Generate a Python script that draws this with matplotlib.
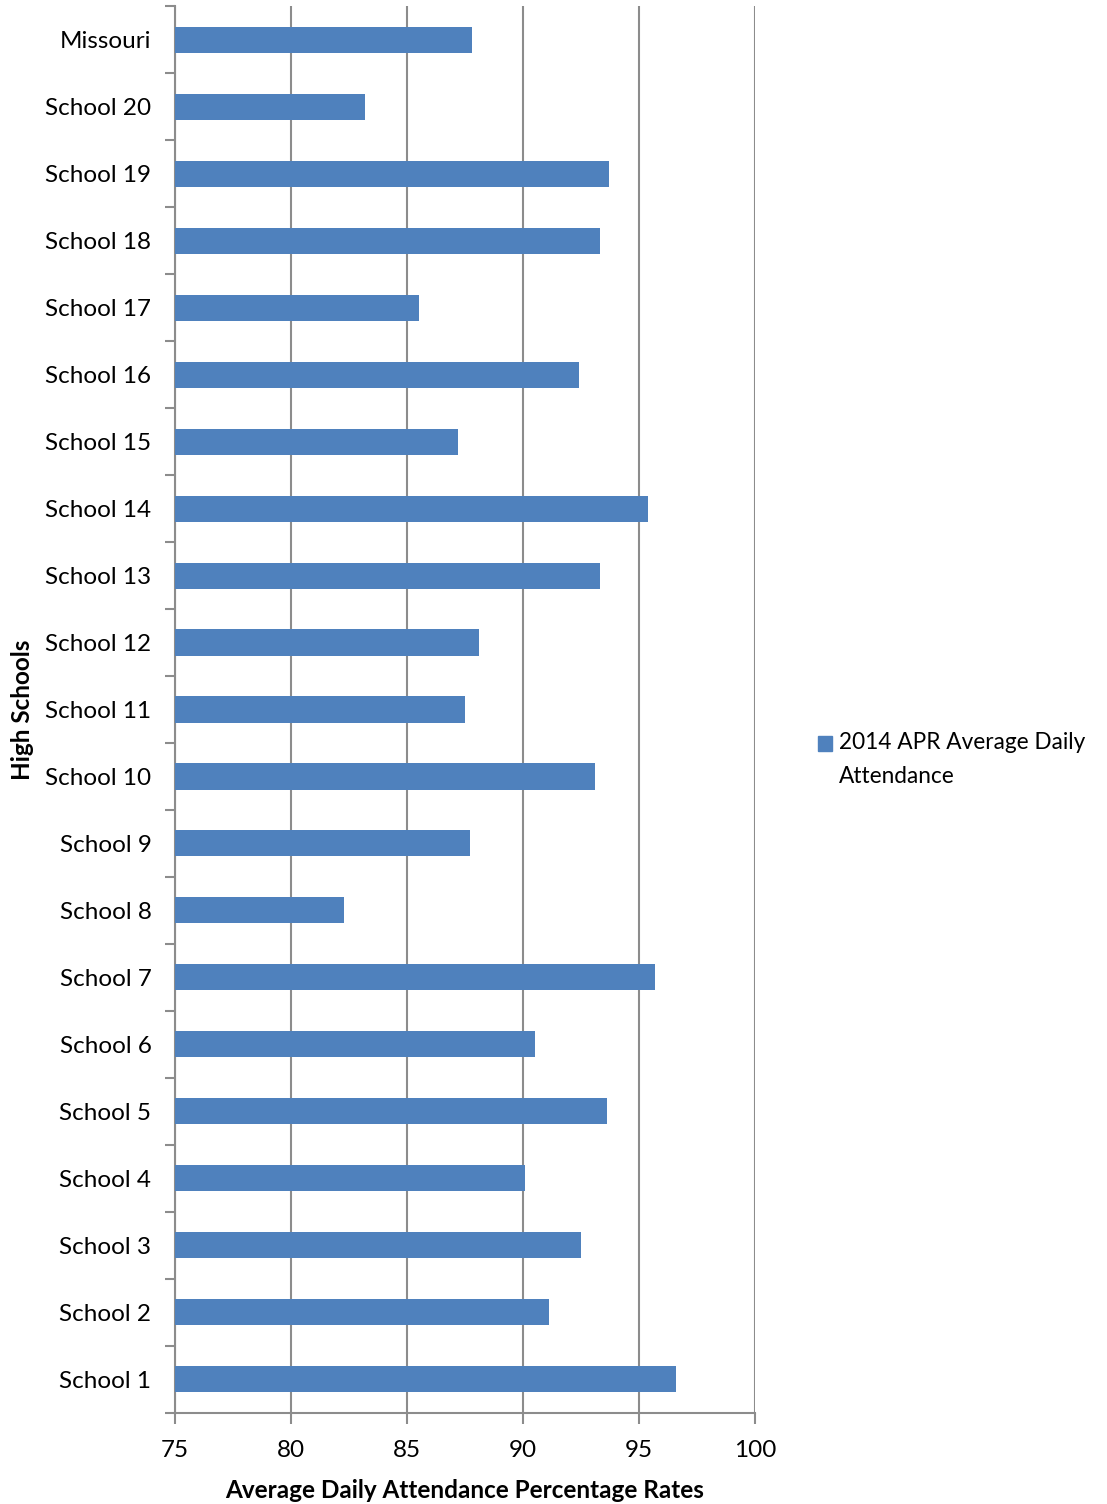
import matplotlib.pyplot as plt
import matplotlib.patches as mpatches

schools = ["School 1", "School 2", "School 3", "School 4", "School 5",
           "School 6", "School 7", "School 8", "School 9", "School 10",
           "School 11", "School 12", "School 13", "School 14", "School 15",
           "School 16", "School 17", "School 18", "School 19", "School 20",
           "Missouri"]
attendance = [96.6, 91.1, 92.5, 90.1, 93.6,
              90.5, 95.7, 82.3, 87.7, 93.1,
              87.5, 88.1, 93.3, 95.4, 87.2,
              92.4, 85.5, 93.3, 93.7, 83.2,
              87.8]
x_ticks = [75, 80, 85, 90, 95, 100]
series_name = "2014 APR Average Daily\nAttendance"

bar_color = "#4f81bd"
grid_color = "#8c8c8c"
fs = 17.5

plt.rcParams["font.family"] = ["Lato", "DejaVu Sans"]

fig = plt.figure(figsize=(11.07, 15.04), dpi=100)
ax = fig.add_axes([0.1581, 0.0608, 0.5240, 0.9349])

base = x_ticks[0]
y_pos = list(range(len(schools)))
ax.barh(y_pos, [v - base for v in attendance], left=base, height=0.39,
        color=bar_color, zorder=3)

ax.set_xlim(x_ticks[0], x_ticks[-1])
ax.set_ylim(-0.5, len(schools) - 0.5)
ax.set_xticks(x_ticks)
ax.set_xticklabels([str(t) for t in x_ticks], fontsize=fs)

# category labels centred on bars, tick marks on the boundaries
ax.set_yticks(y_pos)
ax.set_yticklabels(schools, fontsize=fs)
ax.tick_params(axis="y", which="major", length=0, pad=17)
ax.set_yticks([i - 0.5 for i in range(len(schools) + 1)], minor=True)
ax.tick_params(axis="y", which="minor", length=7, width=1.5,
               color=grid_color, direction="out")
ax.tick_params(axis="x", length=8, width=1.5, color=grid_color,
               direction="out", pad=11.5)

ax.grid(True, axis="x", color=grid_color, linewidth=1.5, zorder=0)
for side in ("top", "right"):
    ax.spines[side].set_visible(False)
for side in ("left", "bottom"):
    ax.spines[side].set_color(grid_color)
    ax.spines[side].set_linewidth(1.5)

ax.set_xlabel("Average Daily Attendance Percentage Rates", fontsize=fs,
              fontweight="bold", labelpad=13)
ax.set_ylabel("High Schools", fontsize=fs, fontweight="bold", labelpad=8)

handle = mpatches.Patch(color=bar_color, label=series_name)
leg = fig.legend(handles=[handle], loc="center left",
                 bbox_to_anchor=(0.739, 0.495), frameon=False, fontsize=16.3,
                 handlelength=0.62, handleheight=0.62, handletextpad=0.3,
                 borderpad=0, borderaxespad=0)
for t in leg.get_texts():
    t.set_linespacing(1.8)
# put the colour square beside the first line of the label
swatch = leg.legend_handles[0]
swatch.set_y(swatch.get_y() + 12)

fig.savefig("out.png", dpi=100)
